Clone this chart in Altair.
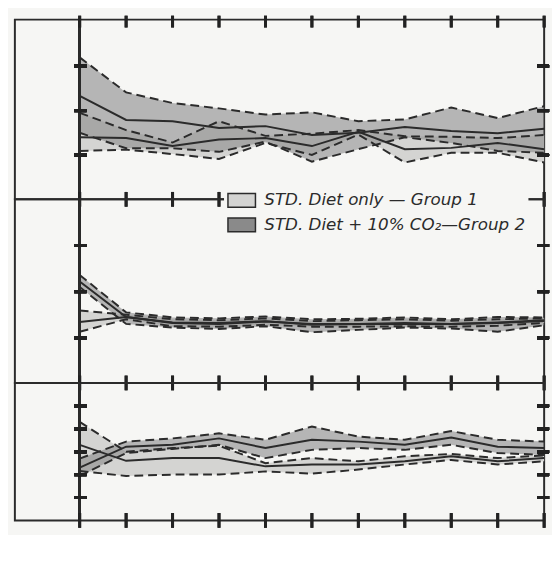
import altair as alt
import pandas as pd

days = list(range(1, 12))

G1 = "STD. Diet only \u2014 Group 1"
G2 = "STD. Diet + 10% CO\u2082\u2014Group 2"

# NH3, mEq./24 hrs.
nh3_g1_lo = [1.09, 1.12, 1.02, 0.91, 1.27, 1.00, 1.46, 0.83, 1.05, 1.05, 0.83]
nh3_g1_mean = [1.40, 1.38, 1.20, 1.35, 1.38, 1.20, 1.52, 1.13, 1.16, 1.27, 1.13]
nh3_g1_hi = [1.95, 1.56, 1.28, 1.76, 1.43, 1.48, 1.56, 1.42, 1.41, 1.38, 1.45]
nh3_g2_lo = [1.50, 1.15, 1.15, 1.07, 1.30, 0.85, 1.13, 1.40, 1.27, 1.09, 1.05]
nh3_g2_mean = [2.33, 1.79, 1.76, 1.61, 1.65, 1.45, 1.50, 1.63, 1.54, 1.49, 1.59]
nh3_g2_hi = [3.20, 2.41, 2.17, 2.05, 1.91, 1.96, 1.76, 1.80, 2.07, 1.83, 2.10]

# TA, mEq./24 hrs.
ta_g1_lo = [0.13, 0.40, 0.25, 0.24, 0.28, 0.24, 0.24, 0.25, 0.24, 0.26, 0.32]
ta_g1_mean = [0.34, 0.45, 0.32, 0.30, 0.35, 0.30, 0.30, 0.30, 0.30, 0.33, 0.38]
ta_g1_hi = [0.59, 0.50, 0.40, 0.38, 0.42, 0.36, 0.38, 0.40, 0.37, 0.40, 0.42]
ta_g2_lo = [1.10, 0.30, 0.22, 0.19, 0.25, 0.12, 0.17, 0.22, 0.20, 0.13, 0.27]
ta_g2_mean = [1.22, 0.45, 0.33, 0.32, 0.36, 0.28, 0.30, 0.32, 0.30, 0.32, 0.36]
ta_g2_hi = [1.36, 0.55, 0.44, 0.42, 0.46, 0.40, 0.41, 0.44, 0.40, 0.45, 0.44]

# pH
ph_g1_lo = [6.08, 5.97, 6.00, 6.00, 6.07, 6.02, 6.11, 6.22, 6.32, 6.22, 6.29]
ph_g1_mean = [6.65, 6.30, 6.36, 6.36, 6.18, 6.22, 6.22, 6.29, 6.40, 6.29, 6.36]
ph_g1_hi = [7.15, 6.50, 6.58, 6.63, 6.25, 6.36, 6.29, 6.40, 6.45, 6.36, 6.42]
ph_g2_lo = [5.97, 6.47, 6.56, 6.65, 6.36, 6.54, 6.58, 6.54, 6.65, 6.47, 6.43]
ph_g2_mean = [6.15, 6.61, 6.65, 6.79, 6.58, 6.76, 6.72, 6.65, 6.81, 6.61, 6.58]
ph_g2_hi = [6.35, 6.72, 6.79, 6.90, 6.76, 7.05, 6.83, 6.76, 6.95, 6.76, 6.72]

INK = "#2b2b2b"
TICK = "#222222"
BG = "#f6f6f4"
FILL1 = "#d4d4d2"
FILL2 = "#8a8a8a"
FONT = "DejaVu Sans"
W = 539
XDOM = [-0.395, 11]
PX_PER_DAY = W / (XDOM[1] - XDOM[0])


def panel_df(g1, g2):
    rows = []
    for grp, (lo, mean, hi) in ((G1, g1), (G2, g2)):
        for d, l, m, h in zip(days, lo, mean, hi):
            rows.append({"day": d, "group": grp, "lo": l, "mean": m, "hi": h})
    return pd.DataFrame(rows)


def panel(df, ydom, yticks, title, height, bottom_labels=False, top_ticks=False, legend=None):
    xscale = alt.Scale(domain=XDOM, nice=False, zero=False)
    yscale = alt.Scale(domain=ydom, nice=False, zero=False)
    py = height / (ydom[1] - ydom[0])  # pixels per y unit
    if bottom_labels:
        xaxis = alt.Axis(values=days, format="d", orient="bottom", ticks=False, domain=False,
                         grid=False, labelFontSize=15, labelColor=INK, labelPadding=13,
                         labelFont=FONT, labelFlush=True, labelOverlap=False,
                         title="D\u2002\u2002A\u2002\u2002Y\u2002\u2002S", titleFontSize=24,
                         titleFontStyle="italic", titleFontWeight="normal", titleColor=INK,
                         titlePadding=2, titleFont=FONT)
    else:
        xaxis = None
    yaxis = alt.Axis(values=yticks, format=".1f", orient="left", offset=-73, ticks=True,
                     tickSize=12, tickWidth=2, tickColor=INK, tickOpacity=1,
                     domain=False, grid=False, labelOverlap=False,
                     labelFontSize=15, labelColor=INK, labelPadding=2, labelFont=FONT,
                     title=title, titleFontSize=17, titleFontStyle="italic",
                     titleFontWeight="normal", titleColor=INK, titlePadding=9, titleFont=FONT)

    cscale = alt.Scale(domain=[G1, G2], range=[FILL1, FILL2])
    base = alt.Chart(df)

    area1 = base.transform_filter(alt.datum.group == G1).mark_area(opacity=1.0).encode(
        x=alt.X("day:Q", scale=xscale, axis=xaxis),
        y=alt.Y("lo:Q", scale=yscale, axis=yaxis),
        y2="hi:Q",
        color=alt.Color("group:N", scale=cscale, legend=legend),
    )
    area2 = base.transform_filter(alt.datum.group == G2).mark_area(opacity=0.6).encode(
        x=alt.X("day:Q", axis=None), y=alt.Y("lo:Q", axis=None), y2="hi:Q",
        color=alt.Color("group:N", scale=cscale, legend=legend),
    )
    mean = base.mark_line(color=INK, strokeWidth=2).encode(
        x=alt.X("day:Q", axis=None), y=alt.Y("mean:Q", axis=None), detail="group:N")
    lo = base.mark_line(color=INK, strokeWidth=2, strokeDash=[9, 5]).encode(
        x=alt.X("day:Q", axis=None), y=alt.Y("lo:Q", axis=None), detail="group:N")
    hi = base.mark_line(color=INK, strokeWidth=2, strokeDash=[9, 5]).encode(
        x=alt.X("day:Q", axis=None), y=alt.Y("hi:Q", axis=None), detail="group:N")
    yline = base.mark_rule(color=INK, strokeWidth=2).encode(x=alt.datum(1, axis=None))

    # short rules crossing the frame lines (tick marks)
    rule = dict(color=TICK, strokeWidth=3)
    layers = [area1, area2, lo, hi, mean, yline]
    layers.append(base.mark_rule(**rule).encode(
        x=alt.X("day:Q", axis=None),
        y=alt.datum(ydom[0] + 7.5 / py, axis=None), y2=alt.datum(ydom[0] - 7.5 / py)))
    if top_ticks:
        layers.append(base.mark_rule(**rule).encode(
            x=alt.X("day:Q", axis=None),
            y=alt.datum(ydom[1] + 4 / py, axis=None), y2=alt.datum(ydom[1] - 8 / py)))
    for v in yticks:
        layers.append(base.mark_rule(**rule).encode(
            y=alt.datum(v, axis=None),
            x=alt.datum(1 - 5.5 / PX_PER_DAY, axis=None), x2=alt.datum(1 + 7 / PX_PER_DAY)))
        layers.append(base.mark_rule(**rule).encode(
            y=alt.datum(v, axis=None),
            x=alt.datum(XDOM[1] - 7 / PX_PER_DAY, axis=None),
            x2=alt.datum(XDOM[1] + 5 / PX_PER_DAY)))
    return alt.layer(*layers).properties(width=W, height=height)


nh3 = panel(panel_df((nh3_g1_lo, nh3_g1_mean, nh3_g1_hi), (nh3_g2_lo, nh3_g2_mean, nh3_g2_hi)),
            [0.0, 4.05], [1.0, 2.0, 3.0], "NH\u2083, m Eq./24 hrs.", 183, top_ticks=True)

legend = alt.Legend(orient="none", legendX=213, legendY=-17, title=None,
                    symbolType="M-1,-0.5H1V0.5H-1Z", symbolSize=784,
                    symbolStrokeColor=INK, symbolStrokeWidth=1.5, symbolOpacity=1,
                    labelFontSize=17, labelFontStyle="italic", labelColor=INK, labelFont=FONT,
                    labelOffset=8, rowPadding=-7, padding=3, fillColor=BG, labelLimit=400)

ta = panel(panel_df((ta_g1_lo, ta_g1_mean, ta_g1_hi), (ta_g2_lo, ta_g2_mean, ta_g2_hi)),
           [-0.98, 3.0], [0.0, 1.0, 2.0], "TA, m Eq. /24 hrs.", 187, legend=legend)

ph = panel(panel_df((ph_g1_lo, ph_g1_mean, ph_g1_hi), (ph_g2_lo, ph_g2_mean, ph_g2_hi)),
           [5.0, 8.0], [5.5, 6.0, 6.5, 7.0, 7.5], "pH", 140, bottom_labels=True)

chart = alt.vconcat(nh3, ta, ph, spacing=0, bounds="flush").resolve_scale(
    color="independent").resolve_legend(color="independent").properties(
    padding={"left": 6, "top": 0, "right": 0, "bottom": 0},
    background=BG,
).configure_view(stroke=INK, strokeWidth=2, fill=None)

chart.save("out.html", embed_options={"renderer": "svg", "actions": False})
